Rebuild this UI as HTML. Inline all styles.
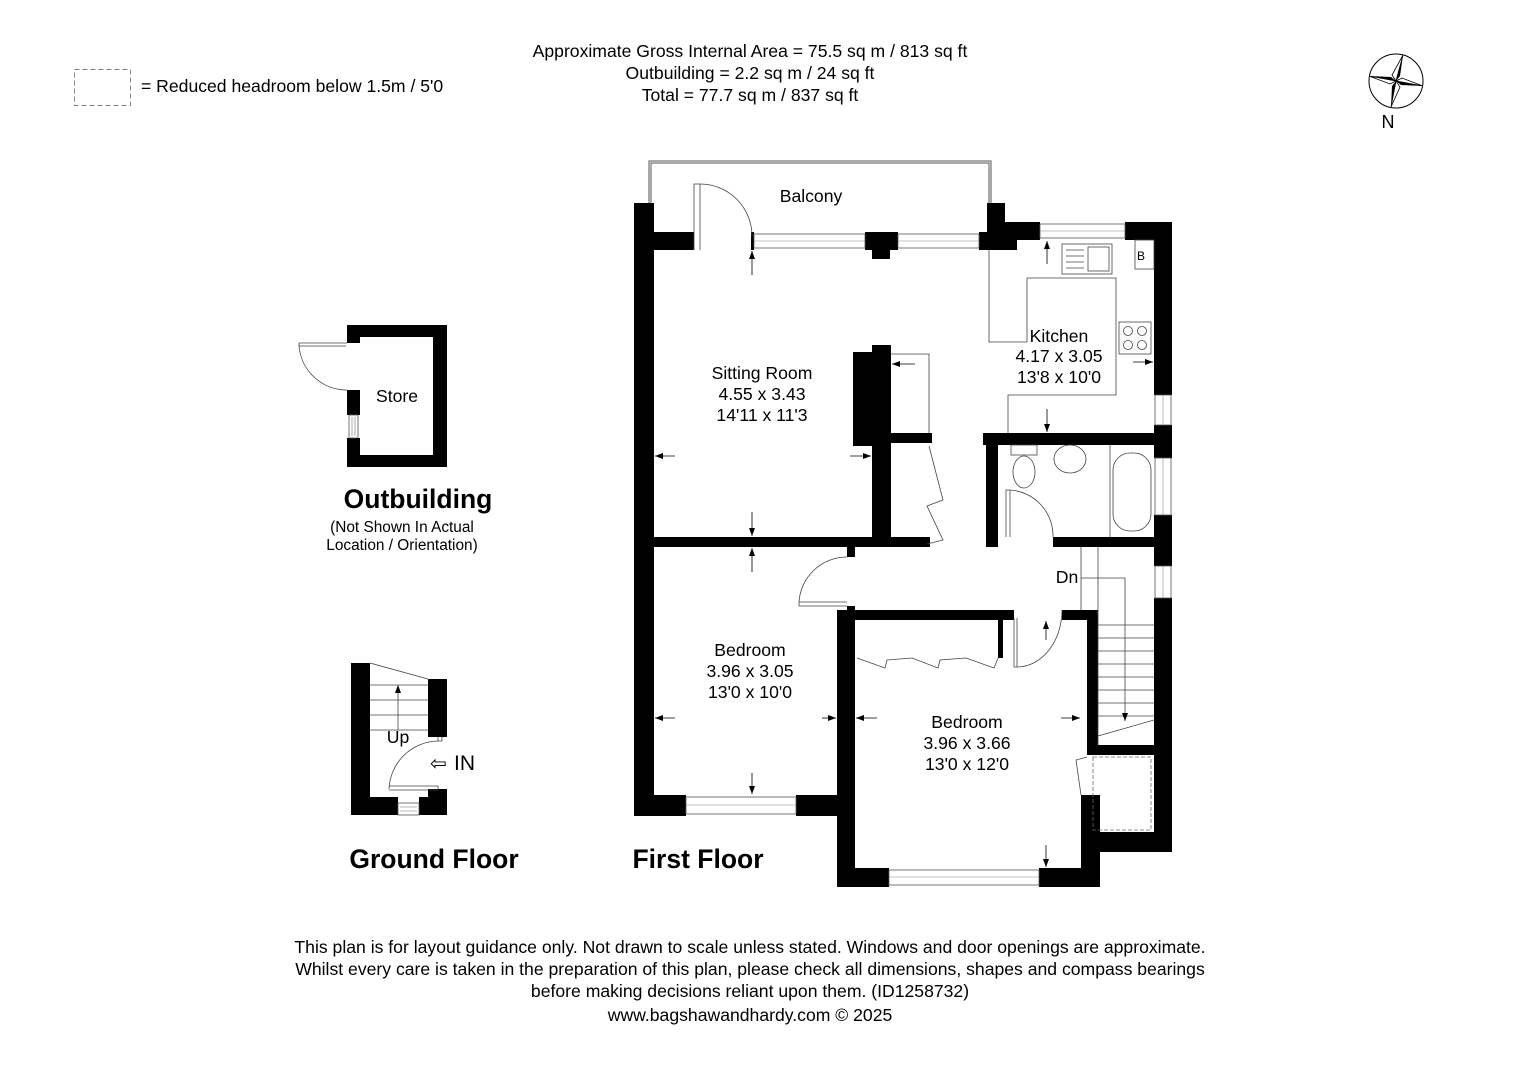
<!DOCTYPE html>
<html><head><meta charset="utf-8"><style>
html,body{margin:0;padding:0;background:#fff}
svg{display:block}
text{font-family:"Liberation Sans",Arial,sans-serif;fill:#000}
</style></head><body>
<svg width="1528" height="1080" viewBox="0 0 1528 1080" xmlns="http://www.w3.org/2000/svg">
<defs>
<marker id="ah" markerWidth="8" markerHeight="6" refX="8" refY="3" orient="auto" markerUnits="userSpaceOnUse"><path d="M0,0 L8,3 L0,6 z" fill="#000"/></marker>
</defs>
<!-- header text -->
<g font-size="17.6" text-anchor="middle">
<text x="750" y="57">Approximate Gross Internal Area = 75.5 sq m / 813 sq ft</text>
<text x="750" y="79">Outbuilding = 2.2 sq m / 24 sq ft</text>
<text x="750" y="101">Total = 77.7 sq m / 837 sq ft</text>
</g>
<rect x="74.5" y="69.5" width="56" height="36" fill="none" stroke="#888" stroke-dasharray="5,3"/>
<text x="141" y="92" font-size="17.6">= Reduced headroom below 1.5m / 5'0</text>
<!-- compass -->
<circle cx="1396" cy="81" r="27" fill="none" stroke="#000" stroke-width="1"/>
<path d="M1403,55 L1400,76 L1396,81 z" fill="#000"/><path d="M1403,55 L1392,75 L1396,81 z" fill="#fff" stroke="#000" stroke-width="0.8"/>
<path d="M1423,86 L1402,78 L1396,81 z" fill="#fff" stroke="#000" stroke-width="0.8"/><path d="M1423,86 L1401,85 L1396,81 z" fill="#000"/>
<path d="M1391,107 L1392,86 L1396,81 z" fill="#000"/><path d="M1391,107 L1400,87 L1396,81 z" fill="#fff" stroke="#000" stroke-width="0.8"/>
<path d="M1369,76 L1390,84 L1396,81 z" fill="#fff" stroke="#000" stroke-width="0.8"/><path d="M1369,76 L1391,77 L1396,81 z" fill="#000"/>
<text x="1388" y="128" font-size="18" text-anchor="middle">N</text>

<!-- OUTBUILDING -->
<g fill="#000">
<rect x="347" y="325" width="100" height="12"/>
<rect x="433" y="325" width="14" height="142"/>
<rect x="347" y="455" width="100" height="12"/>
<rect x="347" y="325" width="13" height="18"/>
<rect x="347" y="390" width="13" height="25"/>
<rect x="347" y="438" width="13" height="29"/>
</g>
<rect x="349" y="415" width="9" height="23" fill="#fff" stroke="#555" stroke-width="0.8"/>
<line x1="352" y1="417" x2="352" y2="436" stroke="#777" stroke-width="0.6"/><line x1="355" y1="417" x2="355" y2="436" stroke="#777" stroke-width="0.6"/>
<path d="M347,343 L299,343 L299,346 L346,346" fill="none" stroke="#444" stroke-width="0.8"/>
<path d="M299,346 A48,48 0 0 0 347,390" fill="none" stroke="#444" stroke-width="0.8"/>
<text x="397" y="402" font-size="17.6" text-anchor="middle">Store</text>
<text x="418" y="508" font-size="26.5" font-weight="bold" text-anchor="middle">Outbuilding</text>
<text x="402" y="532" font-size="15.4" text-anchor="middle">(Not Shown In Actual</text>
<text x="402" y="550" font-size="15.4" text-anchor="middle">Location / Orientation)</text>

<!-- GROUND FLOOR -->
<g fill="#000">
<rect x="351" y="663" width="19" height="152"/>
<rect x="351" y="797" width="47" height="18"/>
<rect x="419" y="797" width="28" height="18"/>
<rect x="428" y="679" width="19" height="58"/>
<rect x="428" y="789" width="19" height="26"/>
</g>
<rect x="398" y="803" width="21" height="12" fill="#fff" stroke="#555" stroke-width="0.8"/>
<line x1="400" y1="807" x2="417" y2="807" stroke="#777" stroke-width="0.6"/><line x1="400" y1="811" x2="417" y2="811" stroke="#777" stroke-width="0.6"/>
<g stroke="#444" stroke-width="0.8" fill="none">
<line x1="370" y1="663" x2="428" y2="679"/>
<line x1="370" y1="685" x2="428" y2="685"/>
<line x1="370" y1="700" x2="428" y2="700"/>
<line x1="370" y1="715" x2="428" y2="715"/>
<line x1="370" y1="730" x2="428" y2="730"/>
<line x1="398" y1="730" x2="398" y2="685" marker-end="url(#ah)"/>
<path d="M438,737 L438,741 L442,741 L442,737"/>
<path d="M438,741 A50,50 0 0 0 389,789"/>
<path d="M389,786 L438,786 L438,790 L389,790"/>
</g>
<text x="398" y="743" font-size="17.6" text-anchor="middle">Up</text>
<text x="430" y="770" font-size="20" fill="#ccc">⇦</text>
<text x="454" y="770" font-size="21">IN</text>
<text x="434" y="868" font-size="26.5" font-weight="bold" text-anchor="middle">Ground Floor</text>

<!-- FIRST FLOOR -->
<path d="M650,203 L650,162 L990,162 L990,203" fill="none" stroke="#555" stroke-width="3"/>
<path d="M650,203 L650,162 L990,162 L990,203" fill="none" stroke="#fff" stroke-width="1"/>
<text x="811" y="202" font-size="17.6" text-anchor="middle">Balcony</text>
<g fill="#000">
<rect x="634" y="203" width="20" height="613"/>
<rect x="654" y="232" width="40" height="18"/>
<rect x="751" y="232" width="3" height="18"/>
<rect x="865" y="232" width="33" height="18"/><rect x="872" y="250" width="18" height="9"/>
<rect x="979" y="232" width="38" height="18"/>
<rect x="987" y="203" width="18" height="30"/>
<rect x="1005" y="222" width="35" height="18"/>
<rect x="1125" y="222" width="47" height="18"/>
<rect x="1154" y="222" width="18" height="173"/>
<rect x="1154" y="425" width="18" height="33"/>
<rect x="1154" y="515" width="18" height="51"/>
<rect x="1154" y="598" width="18" height="254"/>
<rect x="853" y="352" width="19" height="94"/>
<rect x="872" y="345" width="19" height="202"/>
<rect x="891" y="433" width="41" height="10"/>
<rect x="654" y="537" width="276" height="10"/>
<rect x="847" y="547" width="8" height="10"/>
<rect x="847" y="606" width="8" height="14"/>
<rect x="983" y="433" width="189" height="12"/>
<rect x="986" y="445" width="12" height="102"/>
<rect x="1053" y="537" width="119" height="10"/>
<rect x="837" y="610" width="18" height="277"/>
<rect x="855" y="610" width="159" height="10"/>
<rect x="998" y="620" width="5" height="38"/>
<rect x="1062" y="610" width="36" height="10"/>
<rect x="1087" y="610" width="11" height="135"/>
<rect x="1087" y="745" width="85" height="10"/>
<rect x="1081" y="795" width="19" height="92"/>
<rect x="1100" y="832" width="72" height="20"/>
<rect x="837" y="868" width="52" height="19"/>
<rect x="1039" y="868" width="61" height="19"/>
<rect x="634" y="795" width="52" height="21"/>
<rect x="796" y="795" width="59" height="21"/>
</g>
<g fill="#fff" stroke="#555" stroke-width="0.8">
<rect x="754" y="234" width="111" height="14"/><rect x="898" y="234" width="81" height="14"/>
<rect x="1040" y="224" width="85" height="14"/>
<rect x="1155" y="395" width="16" height="30"/><rect x="1155" y="458" width="16" height="57"/><rect x="1155" y="566" width="16" height="32"/>
<rect x="686" y="797" width="110" height="17"/>
<rect x="889" y="870" width="150" height="15"/>
</g>
<g stroke="#888" stroke-width="0.6">
<line x1="754" y1="241" x2="865" y2="241"/><line x1="898" y1="241" x2="979" y2="241"/>
<line x1="1040" y1="231" x2="1125" y2="231"/>
<line x1="1163" y1="395" x2="1163" y2="425"/><line x1="1163" y1="458" x2="1163" y2="515"/><line x1="1163" y1="566" x2="1163" y2="598"/>
<line x1="686" y1="805" x2="796" y2="805"/><line x1="889" y1="877" x2="1039" y2="877"/>
</g>
<g fill="none" stroke="#444" stroke-width="0.8">
<path d="M694,250 L694,184 L700,184 L700,250"/>
<path d="M700,184 A52,52 0 0 1 752,236"/>
<path d="M989,250 L989,342 L1027,342 L1027,278 L1116,278 L1116,395 L1008,395 L1008,433"/>
<rect x="1135" y="240" width="19" height="29"/>
<rect x="1062" y="244" width="50" height="30"/>
<rect x="1088" y="247" width="21" height="24"/>
<line x1="1066" y1="250" x2="1084" y2="250"/><line x1="1066" y1="256" x2="1084" y2="256"/><line x1="1066" y1="262" x2="1084" y2="262"/><line x1="1066" y1="268" x2="1084" y2="268"/>
<rect x="1119" y="322" width="32" height="32"/>
<circle cx="1128" cy="331" r="4.5"/><circle cx="1142" cy="331" r="4.5"/><circle cx="1128" cy="345" r="4.5"/><circle cx="1142" cy="345" r="4.5"/>
<path d="M891,354 L929,354 L929,433"/>
<path d="M929,446 L943,500 L927,506 L943,540 L927,544"/>
<line x1="1110" y1="445" x2="1110" y2="537"/>
<rect x="1113" y="453" width="38" height="78" rx="17"/>
<rect x="1011" y="445" width="26" height="10"/>
<ellipse cx="1024" cy="472" rx="11" ry="16"/>
<ellipse cx="1070" cy="459" rx="16" ry="14"/>
<path d="M1006,537 L1006,490 L1010,490 L1010,537"/>
<path d="M1010,490 A46,46 0 0 1 1053,537"/>
<path d="M847,606 L799,606 L799,602 L847,602"/>
<path d="M799,602 A48,48 0 0 1 847,557"/>
<path d="M857,658 L885,668 L887,660 L912,658 L938,668 L940,660 L966,658 L994,668 L998,658"/>
<path d="M1014,618 L1014,667 L1017,667 L1017,618"/>
<path d="M1017,667 A45,57 0 0 0 1062,610"/>
<line x1="1081" y1="547" x2="1081" y2="610"/><line x1="1098" y1="547" x2="1098" y2="745"/>
<line x1="1098" y1="625" x2="1154" y2="625"/><line x1="1098" y1="638" x2="1154" y2="638"/>
<line x1="1098" y1="651" x2="1154" y2="651"/><line x1="1098" y1="664" x2="1154" y2="664"/>
<line x1="1098" y1="677" x2="1154" y2="677"/><line x1="1098" y1="690" x2="1154" y2="690"/>
<line x1="1098" y1="703" x2="1154" y2="703"/><line x1="1098" y1="716" x2="1154" y2="716"/>
<line x1="1098" y1="736" x2="1154" y2="720"/>
<path d="M1081,578 L1125,578 L1125,721" marker-end="url(#ah)"/>
<path d="M1081,795 L1076,760 L1087,757"/>
</g>
<rect x="1093" y="757" width="58" height="73" fill="none" stroke="#666" stroke-width="0.8" stroke-dasharray="4,2"/>
<g stroke="#000" stroke-width="0.8" marker-end="url(#ah)">
<line x1="752" y1="275" x2="752" y2="251"/>
<line x1="675" y1="456" x2="655" y2="456"/>
<line x1="850" y1="456" x2="871" y2="456"/>
<line x1="752" y1="512" x2="752" y2="536"/>
<line x1="752" y1="572" x2="752" y2="548"/>
<line x1="675" y1="718" x2="655" y2="718"/>
<line x1="822" y1="718" x2="836" y2="718"/>
<line x1="752" y1="773" x2="752" y2="794"/>
<line x1="877" y1="718" x2="856" y2="718"/>
<line x1="1061" y1="718" x2="1080" y2="718"/>
<line x1="1046" y1="845" x2="1046" y2="867"/>
<line x1="1046" y1="640" x2="1046" y2="621"/>
<line x1="1047" y1="264" x2="1047" y2="241"/>
<line x1="1047" y1="409" x2="1047" y2="432"/>
<line x1="1133" y1="362" x2="1153" y2="362"/>
<line x1="915" y1="364" x2="892" y2="364"/>
</g>
<g font-size="17.6" text-anchor="middle">
<text x="762" y="379">Sitting Room</text><text x="762" y="400">4.55 x 3.43</text><text x="762" y="421">14'11 x 11'3</text>
<text x="1059" y="342">Kitchen</text><text x="1059" y="362">4.17 x 3.05</text><text x="1059" y="383">13'8 x 10'0</text>
<text x="750" y="656">Bedroom</text><text x="750" y="677">3.96 x 3.05</text><text x="750" y="698">13'0 x 10'0</text>
<text x="967" y="728">Bedroom</text><text x="967" y="749">3.96 x 3.66</text><text x="967" y="770">13'0 x 12'0</text>
<text x="1067" y="583">Dn</text>
</g>
<text x="1141" y="260" font-size="12" text-anchor="middle">B</text>
<text x="698" y="868" font-size="26.5" font-weight="bold" text-anchor="middle">First Floor</text>

<g font-size="17.6" text-anchor="middle">
<text x="750" y="953">This plan is for layout guidance only. Not drawn to scale unless stated. Windows and door openings are approximate.</text>
<text x="750" y="975">Whilst every care is taken in the preparation of this plan, please check all dimensions, shapes and compass bearings</text>
<text x="750" y="997">before making decisions reliant upon them. (ID1258732)</text>
<text x="750" y="1021">www.bagshawandhardy.com © 2025</text>
</g>
</svg>
</body></html>
